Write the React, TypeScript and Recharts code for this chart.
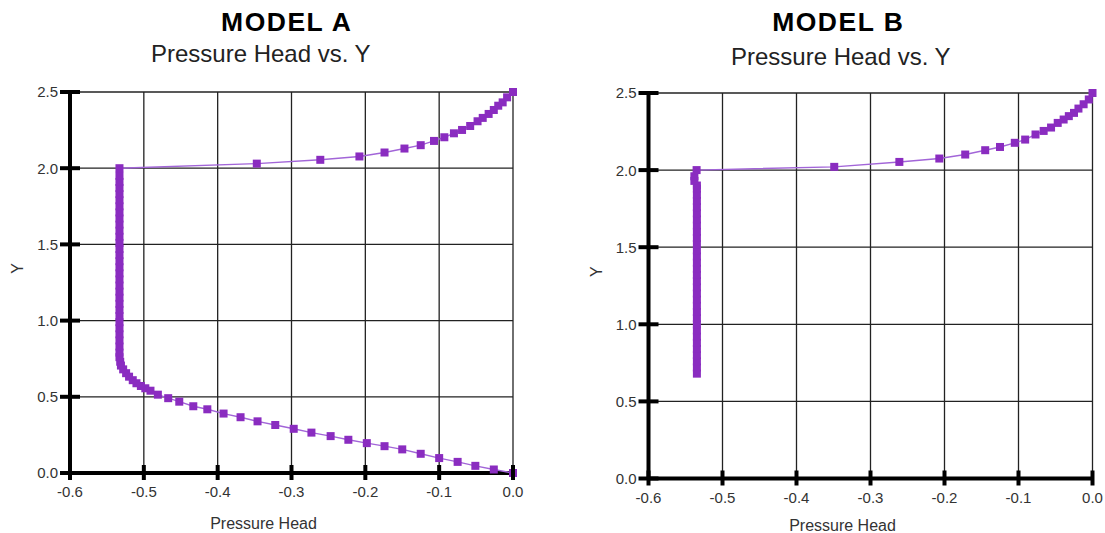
import React from 'react';
import { ScatterChart, Scatter, XAxis, YAxis, CartesianGrid } from 'recharts';

// axis ticks
const PRESSURE_TICKS = [-0.6, -0.5, -0.4, -0.3, -0.2, -0.1, 0];
const Y_TICKS = [0, 0.5, 1, 1.5, 2, 2.5];

// Model A: lower branch, from the bottom (0, 0) up into the bend
const aLowerPressure = [0, -0.026, -0.051, -0.075, -0.1, -0.125, -0.15, -0.174, -0.198, -0.223, -0.247, -0.273, -0.297, -0.322, -0.346, -0.369, -0.392, -0.414, -0.433, -0.452, -0.467, -0.481, -0.491, -0.498, -0.504, -0.51, -0.515, -0.52, -0.524, -0.528, -0.531, -0.532, -0.533];
const aLowerY = [0, 0.023, 0.047, 0.073, 0.098, 0.126, 0.155, 0.176, 0.196, 0.218, 0.242, 0.265, 0.29, 0.315, 0.339, 0.366, 0.39, 0.418, 0.438, 0.468, 0.491, 0.514, 0.54, 0.556, 0.571, 0.589, 0.609, 0.632, 0.655, 0.68, 0.705, 0.73, 0.76];
// Model A: the near-vertical column
const aColumnPressure = -0.533;
const aColumnY = [0.79, 0.83, 0.87, 0.91, 0.95, 0.99, 1.03, 1.07, 1.11, 1.15, 1.19, 1.23, 1.27, 1.31, 1.35, 1.39, 1.43, 1.47, 1.51, 1.55, 1.59, 1.63, 1.67, 1.71, 1.75, 1.79, 1.83, 1.87, 1.91, 1.95, 2.0];
// Model A: upper branch to the surface
const aUpperPressure = [-0.347, -0.261, -0.208, -0.174, -0.147, -0.125, -0.107, -0.093, -0.08, -0.069, -0.058, -0.048, -0.041, -0.033, -0.026, -0.02, -0.014, -0.008, 0];
const aUpperY = [2.03, 2.055, 2.077, 2.103, 2.129, 2.151, 2.179, 2.203, 2.229, 2.251, 2.277, 2.308, 2.33, 2.356, 2.382, 2.41, 2.432, 2.465, 2.5];

// Model B: column
const bColumnPressure = -0.5346;
const bColumnY = [0.68, 0.72, 0.76, 0.8, 0.84, 0.88, 0.92, 0.96, 1.0, 1.04, 1.08, 1.12, 1.16, 1.2, 1.24, 1.28, 1.32, 1.36, 1.4, 1.44, 1.48, 1.52, 1.56, 1.6, 1.64, 1.68, 1.72, 1.76, 1.8, 1.84, 1.88, 1.9];
const bJogPressure = [-0.538, -0.538, -0.535];
const bJogY = [1.93, 1.96, 2.0];
// Model B: upper branch
const bUpperPressure = [-0.349, -0.261, -0.207, -0.172, -0.145, -0.125, -0.105, -0.091, -0.077, -0.066, -0.056, -0.047, -0.039, -0.032, -0.025, -0.019, -0.012, -0.005, 0];
const bUpperY = [2.021, 2.053, 2.075, 2.101, 2.129, 2.15, 2.177, 2.198, 2.231, 2.254, 2.276, 2.306, 2.328, 2.35, 2.371, 2.399, 2.427, 2.458, 2.5];

const zip = (xs: number[], ys: number[]) => ys.map((y, i) => ({ x: xs[i], y }));
const column = (x: number, ys: number[]) => ys.map((y) => ({ x, y }));

const modelA = [
  ...zip(aLowerPressure, aLowerY),
  ...column(aColumnPressure, aColumnY),
  ...zip(aUpperPressure, aUpperY),
];
const modelB = [
  ...column(bColumnPressure, bColumnY),
  ...zip(bJogPressure, bJogY),
  ...zip(bUpperPressure, bUpperY),
];

const FONT = '"Liberation Sans", Arial, sans-serif';
const MARKER = '#8a2cc0';
const LINE = '#a265d8';

const Square = (props: any) => {
  const { cx, cy } = props;
  if (cx == null || cy == null) return null;
  return <rect x={cx - 4} y={cy - 4} width={8} height={8} fill={MARKER} />;
};

const PressureTick = (props: any) => {
  const { x, y, payload } = props;
  return (
    <g>
      <line x1={x} x2={x} y1={y - 8} y2={y + 7} stroke="#000" strokeWidth={4} />
      <text x={x} y={y + 24} textAnchor="middle" fontSize={15} fontFamily={FONT} fill="#333">
        {Number(payload.value).toFixed(1)}
      </text>
    </g>
  );
};

const HeightTick = (props: any) => {
  const { x, y, payload } = props;
  return (
    <g>
      <line x1={x - 10} x2={x + 10} y1={y} y2={y} stroke="#000" strokeWidth={4} />
      <text x={x - 12} y={y} dy="0.36em" textAnchor="end" fontSize={15} fontFamily={FONT} fill="#333">
        {Number(payload.value).toFixed(1)}
      </text>
    </g>
  );
};

// keep the axis title inside the 533px page
const XTitle = ({ viewBox }: any) => (
  <text
    x={viewBox.x + viewBox.width / 2 - 28}
    y={Math.min(viewBox.y + 55.5, 530.5)}
    textAnchor="middle"
    fontSize={16}
    fontFamily={FONT}
    fill="#333"
  >
    Pressure Head
  </text>
);

const YTitle = ({ viewBox }: any) => {
  const cx = viewBox.x + viewBox.width - 52.5;
  const cy = viewBox.y + viewBox.height / 2 - 14;
  return (
    <text
      x={cx}
      y={cy}
      dy="0.36em"
      textAnchor="middle"
      fontSize={16}
      fontFamily={FONT}
      fill="#333"
      transform={`rotate(-90, ${cx}, ${cy})`}
    >
      Y
    </text>
  );
};

interface ProfileProps {
  data: { x: number; y: number }[];
  margin: { top: number; right: number; bottom: number; left: number };
}

const PressureProfile: React.FC<ProfileProps> = ({ data, margin }) => (
  <ScatterChart width={552} height={533} margin={margin}>
    <CartesianGrid stroke="#222" strokeWidth={1.3} />
    <XAxis
      type="number"
      dataKey="x"
      domain={[-0.6, 0]}
      ticks={PRESSURE_TICKS}
      interval={0}
      tickSize={0}
      tickMargin={0}
      tickLine={false}
      axisLine={{ stroke: '#000', strokeWidth: 4 }}
      tick={(p: any) => <PressureTick {...p} />}
      height={40}
      label={{ value: 'Pressure Head', content: XTitle }}
    />
    <YAxis
      type="number"
      dataKey="y"
      domain={[0, 2.5]}
      ticks={Y_TICKS}
      interval={0}
      tickSize={0}
      tickMargin={0}
      tickLine={false}
      axisLine={{ stroke: '#000', strokeWidth: 4 }}
      tick={(p: any) => <HeightTick {...p} />}
      width={50}
      label={{ value: 'Y', content: YTitle }}
    />
    <Scatter
      data={data}
      line={{ stroke: LINE, strokeWidth: 1.4 }}
      lineType="joint"
      shape={Square}
      isAnimationActive={false}
    />
  </ScatterChart>
);

const Titles = () => (
  <svg width={1105} height={80} style={{ position: 'absolute', left: 0, top: 0 }}>
    <g fontFamily={FONT} textAnchor="middle">
      <text x={286.7} y={30.7} fontSize={26.5} fontWeight="bold" letterSpacing={1.5} fill="#000">MODEL A</text>
      <text x={260.8} y={61.7} fontSize={24} fill="#222">Pressure Head vs. Y</text>
      <text x={838.3} y={30.7} fontSize={26.5} fontWeight="bold" letterSpacing={1.5} fill="#000">MODEL B</text>
      <text x={840.8} y={65} fontSize={24} fill="#222">Pressure Head vs. Y</text>
    </g>
  </svg>
);

export default function App() {
  return (
    <div style={{ position: 'absolute', left: 0, top: 0, width: 1105, height: 533, background: '#fff', overflow: 'hidden' }}>
      <div style={{ position: 'absolute', left: 0, top: 0 }}>
        <PressureProfile data={modelA} margin={{ top: 92, right: 39, bottom: 20, left: 20 }} />
      </div>
      <div style={{ position: 'absolute', left: 553, top: 0 }}>
        <PressureProfile data={modelB} margin={{ top: 93, right: 12.5, bottom: 14.5, left: 45.5 }} />
      </div>
      <Titles />
    </div>
  );
}
